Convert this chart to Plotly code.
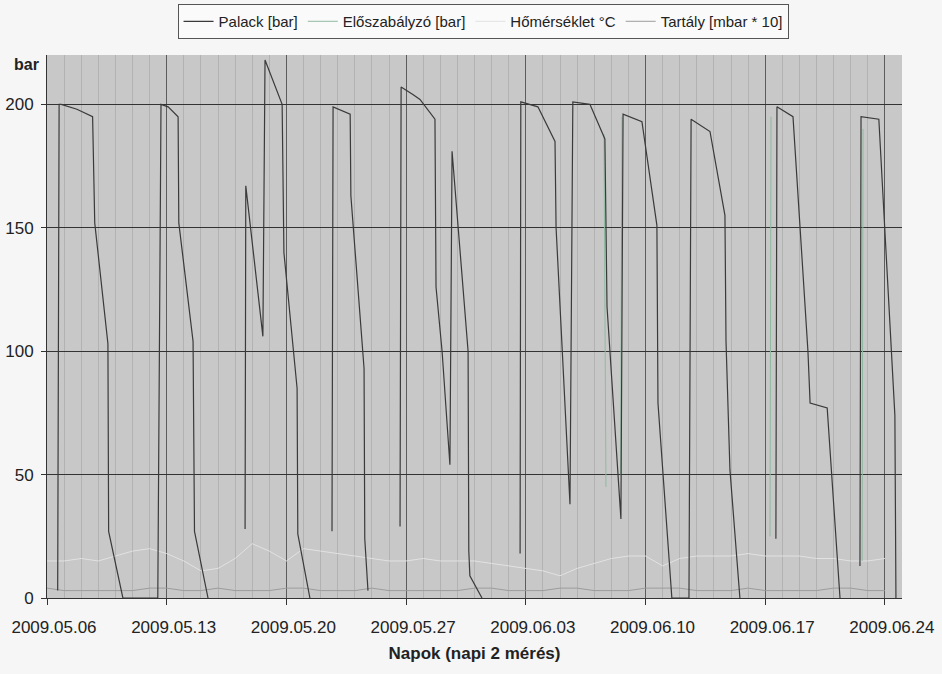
import plotly.graph_objects as go

# ---------------- data ----------------
# Palack [bar] - bottle pressure (None = break in the line)
palack_time = [
    "2009-05-06 15:00", "2009-05-06 17:00", "2009-05-06 20:00", "2009-05-07 18:00", "2009-05-08 16:00",
    "2009-05-08 19:00", "2009-05-09 13:30", "2009-05-09 14:30", "2009-05-10 10:30", "2009-05-12 11:30",
    "2009-05-12 16:00", "2009-05-13 02:00", "2009-05-13 16:00", "2009-05-13 17:00", "2009-05-14 13:00",
    "2009-05-14 15:00", "2009-05-15 10:00",
    None,
    "2009-05-17 14:00", "2009-05-17 15:00", "2009-05-18 15:00", "2009-05-18 18:00", "2009-05-19 18:00",
    "2009-05-19 20:30", "2009-05-20 15:00", "2009-05-20 16:00", "2009-05-21 09:00",
    None,
    "2009-05-22 16:00", "2009-05-22 17:30", "2009-05-23 17:30", "2009-05-23 18:30", "2009-05-24 13:00",
    "2009-05-24 14:00", "2009-05-24 18:30",
    None,
    "2009-05-26 15:30", "2009-05-26 17:00", "2009-05-27 09:30", "2009-05-27 19:30", "2009-05-28 16:30",
    "2009-05-28 18:00", "2009-05-29 02:30", "2009-05-29 13:30", "2009-05-29 16:30", "2009-05-30 15:00",
    "2009-05-30 16:00", "2009-05-30 17:30", "2009-05-31 10:30",
    None,
    "2009-06-02 16:00", "2009-06-02 17:00", "2009-06-03 17:00", "2009-06-04 17:00", "2009-06-04 18:30",
    "2009-06-05 14:00", "2009-06-05 18:00", "2009-06-06 18:00", "2009-06-07 15:00", "2009-06-07 18:00",
    "2009-06-08 13:30", "2009-06-08 16:30", "2009-06-09 19:00", "2009-06-10 16:00", "2009-06-10 17:30",
    "2009-06-11 13:00", "2009-06-12 13:00", "2009-06-12 16:00", "2009-06-13 18:30", "2009-06-14 15:30",
    "2009-06-14 17:00", "2009-06-14 22:30", "2009-06-15 12:30",
    None,
    "2009-06-17 15:00", "2009-06-17 16:30", "2009-06-18 15:00", "2009-06-19 12:00", "2009-06-19 15:00",
    "2009-06-20 15:00", "2009-06-21 09:00",
    None,
    "2009-06-22 13:00", "2009-06-22 14:30", "2009-06-23 15:30", "2009-06-24 00:00", "2009-06-24 10:00",
    "2009-06-24 14:00", "2009-06-24 15:30",
]
palack_bar = [
    3, 200, 200, 198, 195, 152, 103, 27, 0, 0, 200, 199, 195, 152, 104, 27, 0,
    None,
    28, 167, 106, 218, 200, 140, 85, 26, 0,
    None,
    27, 199, 196, 163, 93, 24, 3,
    None,
    29, 207, 204, 202, 194, 126, 100, 54, 181, 100, 19, 9, 0,
    None,
    18, 201, 199, 185, 150, 38, 201, 200, 186, 118, 32, 196, 193, 151, 79, 0, 0, 194, 189, 155, 104, 52, 0,
    None,
    24, 199, 195, 100, 79, 77, 0,
    None,
    13, 195, 194, 150, 100, 74, 0,
]

# Előszabályzó [bar] - pre-regulator (only short fragments visible)
eloszab_time = [
    "2009-06-07 13:40", "2009-06-07 16:30", None,
    "2009-06-08 13:00", "2009-06-08 15:00", None,
    "2009-06-17 06:45", "2009-06-17 08:10", None,
    "2009-06-22 16:00", "2009-06-22 17:20",
]
eloszab_bar = [188, 45, None, 50, 195, None, 25, 195, None, 15, 190]

# daily values (05.06 ... 06.24)
day_dates = [
    "2009-05-06", "2009-05-07", "2009-05-08", "2009-05-09", "2009-05-10", "2009-05-11", "2009-05-12",
    "2009-05-13", "2009-05-14", "2009-05-15", "2009-05-16", "2009-05-17", "2009-05-18", "2009-05-19",
    "2009-05-20", "2009-05-21", "2009-05-22", "2009-05-23", "2009-05-24", "2009-05-25", "2009-05-26",
    "2009-05-27", "2009-05-28", "2009-05-29", "2009-05-30", "2009-05-31", "2009-06-01", "2009-06-02",
    "2009-06-03", "2009-06-04", "2009-06-05", "2009-06-06", "2009-06-07", "2009-06-08", "2009-06-09",
    "2009-06-10", "2009-06-11", "2009-06-12", "2009-06-13", "2009-06-14", "2009-06-15", "2009-06-16",
    "2009-06-17", "2009-06-18", "2009-06-19", "2009-06-20", "2009-06-21", "2009-06-22", "2009-06-23",
    "2009-06-24",
]
homerseklet_c = [
    15, 15, 16, 15, 17, 19, 20, 18, 15, 11, 12, 16, 22, 19, 15, 20, 19, 18, 17, 16,
    15, 15, 16, 15, 15, 15, 14, 13, 12, 11, 9, 12, 14, 16, 17, 17, 13, 16, 17, 17,
    17, 18, 17, 17, 17, 16, 16, 15, 15, 16,
]
tartaly_mbar10 = [
    4, 3, 3, 3, 3, 3, 4, 4, 3, 3, 4, 3, 3, 3, 4, 4, 3, 3, 3, 4,
    3, 3, 3, 3, 3, 4, 4, 3, 3, 3, 4, 4, 3, 3, 3, 4, 4, 4, 3, 3,
    3, 4, 3, 3, 3, 3, 4, 4, 3, 3,
]

y_ticks = [0, 50, 100, 150, 200]
x_tick_start = "2009-05-06"
x_range = ["2009-05-06", "2009-06-25"]

# ---------------- figure ----------------
FONT = "Liberation Sans, Arial, sans-serif"
fig = go.Figure()

fig.add_trace(go.Scatter(x=day_dates, y=tartaly_mbar10, mode="lines", name="Tartály [mbar * 10]",
                         line=dict(color="#9c9c9c", width=1), legendrank=4))
fig.add_trace(go.Scatter(x=day_dates, y=homerseklet_c, mode="lines", name="Hőmérséklet °C",
                         line=dict(color="#e2e2e2", width=1), legendrank=3))
fig.add_trace(go.Scatter(x=eloszab_time, y=eloszab_bar, mode="lines", name="Előszabályzó [bar]",
                         line=dict(color="#8fbaa0", width=1), connectgaps=False, legendrank=2))
fig.add_trace(go.Scatter(x=palack_time, y=palack_bar, mode="lines", name="Palack [bar]",
                         line=dict(color="#3a3a3a", width=1.2), connectgaps=False, legendrank=1))

fig.update_layout(
    width=942, height=674,
    margin=dict(l=47, r=40, t=55, b=76, autoexpand=False),
    paper_bgcolor="#f6f6f6",
    plot_bgcolor="#c8c8c8",
    font=dict(family=FONT, size=17, color="#222"),
    showlegend=True,
    legend=dict(orientation="h", x=0.51, xanchor="center", xref="paper",
                y=0.994, yanchor="top", yref="container",
                bgcolor="#fafafa", bordercolor="#555", borderwidth=1,
                font=dict(family=FONT, size=15, color="#222"), itemwidth=30),
    xaxis=dict(
        type="date", range=x_range, tick0=x_tick_start, dtick=7 * 86400000,
        tickformat="%Y.%m.%d", ticks="outside", ticklen=6, tickcolor="#333",
        ticklabelshift=7, ticklabelstandoff=8,
        showgrid=True, gridcolor="#5c5c5c", gridwidth=1,
        minor=dict(dtick=86400000, showgrid=True, gridcolor="#b2b2b2", gridwidth=1, ticks=""),
        showline=True, linecolor="#333", linewidth=1, zeroline=False,
        tickfont=dict(family=FONT, size=17, color="#222"),
        title=dict(text="<b>Napok (napi 2 mérés)</b>", font=dict(family=FONT, size=17, color="#222"), standoff=10),
    ),
    yaxis=dict(
        range=[0, 220], tickvals=y_ticks, ticks="outside", ticklen=5, tickcolor="#333",
        ticklabelstandoff=4,
        showgrid=True, gridcolor="#333", gridwidth=1,
        showline=True, linecolor="#333", linewidth=1, zeroline=False,
        tickfont=dict(family=FONT, size=17, color="#222"),
    ),
    annotations=[dict(text="<b>bar</b>", xref="paper", yref="paper", x=-0.0234, y=0.983,
                      xanchor="center", yanchor="middle",
                      showarrow=False, font=dict(family=FONT, size=16, color="#222"))],
)

fig.write_html("out.html", config={"displayModeBar": False},
               post_script="document.body.style.margin='0';document.body.style.padding='0';")
